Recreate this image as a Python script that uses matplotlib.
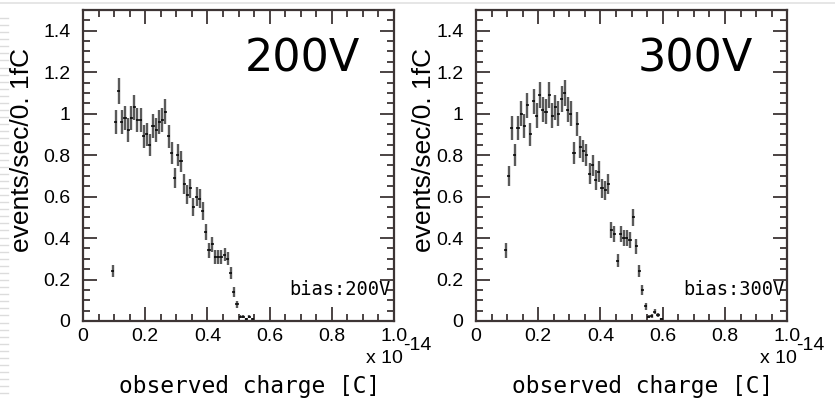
#!/usr/bin/env python
# coding: utf-8

import matplotlib
matplotlib.use('Agg')
from matplotlib import pyplot as plt
from matplotlib.ticker import MultipleLocator, FixedLocator, FixedFormatter
from matplotlib.lines import Line2D

# observed charge bin centres (x 1e-14 C), rates (events/sec/0.1fC), errors
charge_200 = [0.095, 0.105, 0.115, 0.125, 0.135, 0.145, 0.155, 0.165, 0.175, 0.185,
              0.195, 0.205, 0.215, 0.225, 0.235, 0.245, 0.255, 0.265, 0.275, 0.285,
              0.295, 0.305, 0.315, 0.325, 0.335, 0.345, 0.355, 0.365, 0.375, 0.385,
              0.395, 0.405, 0.415, 0.425, 0.435, 0.445, 0.455, 0.465, 0.475, 0.485,
              0.495, 0.505, 0.515, 0.525, 0.535, 0.545]
rate_200 = [0.24, 0.96, 1.11, 0.96, 0.98, 0.92, 0.98, 1.03, 0.97, 0.97,
            0.89, 0.90, 0.85, 0.94, 0.92, 0.96, 0.97, 1.01, 0.89, 0.81,
            0.69, 0.80, 0.77, 0.66, 0.61, 0.64, 0.55, 0.60, 0.59, 0.53,
            0.43, 0.34, 0.37, 0.31, 0.31, 0.31, 0.32, 0.30, 0.23, 0.14,
            0.08, 0.02, 0.02, 0.01, 0.02, 0.01]
err_200 = [0.029, 0.058, 0.062, 0.058, 0.058, 0.057, 0.058, 0.060, 0.058, 0.058,
           0.056, 0.056, 0.054, 0.057, 0.057, 0.058, 0.058, 0.059, 0.056, 0.053,
           0.049, 0.053, 0.052, 0.048, 0.046, 0.047, 0.044, 0.046, 0.045, 0.043,
           0.039, 0.034, 0.036, 0.033, 0.033, 0.033, 0.033, 0.032, 0.028, 0.022,
           0.017, 0.008, 0.008, 0.006, 0.008, 0.006]

charge_300 = [0.095, 0.105, 0.115, 0.125, 0.135, 0.145, 0.155, 0.165, 0.175, 0.185,
              0.195, 0.205, 0.215, 0.225, 0.235, 0.245, 0.255, 0.265, 0.275, 0.285,
              0.295, 0.305, 0.315, 0.325, 0.335, 0.345, 0.355, 0.365, 0.375, 0.385,
              0.395, 0.405, 0.415, 0.425, 0.435, 0.445, 0.455, 0.465, 0.475, 0.485,
              0.495, 0.505, 0.515, 0.525, 0.535, 0.545, 0.555, 0.565, 0.575, 0.585,
              0.595]
rate_300 = [0.34, 0.70, 0.93, 0.80, 0.93, 1.00, 0.94, 1.04, 0.90, 1.06,
            0.99, 1.09, 1.02, 1.01, 1.09, 0.99, 1.03, 1.00, 1.07, 1.10,
            1.02, 1.00, 0.81, 0.95, 0.84, 0.82, 0.80, 0.71, 0.75, 0.68,
            0.72, 0.64, 0.63, 0.66, 0.44, 0.42, 0.29, 0.42, 0.40, 0.40,
            0.39, 0.50, 0.36, 0.24, 0.15, 0.07, 0.02, 0.025, 0.045, 0.03,
            0.01]
err_300 = [0.034, 0.049, 0.057, 0.053, 0.057, 0.059, 0.057, 0.060, 0.056, 0.061,
           0.059, 0.062, 0.060, 0.059, 0.062, 0.059, 0.060, 0.059, 0.061, 0.062,
           0.060, 0.059, 0.053, 0.058, 0.054, 0.053, 0.053, 0.050, 0.051, 0.049,
           0.050, 0.047, 0.047, 0.048, 0.039, 0.038, 0.032, 0.038, 0.037, 0.037,
           0.037, 0.042, 0.035, 0.029, 0.023, 0.016, 0.008, 0.009, 0.013, 0.010,
           0.006]
bin_half = 0.005

xticks = [0, 0.2, 0.4, 0.6, 0.8, 1.0]
xticklabels = ['0', '0.2', '0.4', '0.6', '0.8', '1.0']
yticks = [0, 0.2, 0.4, 0.6, 0.8, 1.0, 1.2, 1.4]
yticklabels = ['0', '0.2', '0.4', '0.6', '0.8', '1', '1.2', '1.4']

FRAME = '#3d3535'

fig = plt.figure(figsize=(8.35, 3.98), dpi=100)

# faint slide decorations
fig.add_artist(Line2D([0, 1], [0.992, 0.992], transform=fig.transFigure, color='#e2e2e2', lw=1.2))
for k in range(54):
    yy = 0.955 - k * 0.0178
    fig.add_artist(Line2D([0, 0.009], [yy, yy], transform=fig.transFigure, color='#dcdcdc', lw=1.0))


def panel(rect, x, y, err, big, bias, ylabel_x):
    ax = fig.add_axes(rect)
    ax.errorbar(x, y, yerr=err, fmt='none', ecolor='#5a5a5a', elinewidth=1.7, capsize=0)
    ax.errorbar(x, y, xerr=bin_half, fmt='none', ecolor='black', elinewidth=1.1, capsize=0)
    ax.set_xlim(0, 1.0)
    ax.set_ylim(0, 1.5)
    ax.xaxis.set_major_locator(FixedLocator(xticks))
    ax.xaxis.set_major_formatter(FixedFormatter(xticklabels))
    ax.yaxis.set_major_locator(FixedLocator(yticks))
    ax.yaxis.set_major_formatter(FixedFormatter(yticklabels))
    ax.xaxis.set_minor_locator(MultipleLocator(0.05))
    ax.yaxis.set_minor_locator(MultipleLocator(0.05))
    ax.tick_params(which='both', direction='in', top=True, right=True, color=FRAME, width=1.3)
    ax.tick_params(which='major', length=10, labelsize=14)
    ax.tick_params(which='minor', length=5)
    ax.tick_params(axis='x', pad=5)
    ax.tick_params(axis='y', pad=9)
    for lab in ax.get_xticklabels() + ax.get_yticklabels():
        lab.set_family('Liberation Sans')
    for sp in ax.spines.values():
        sp.set_color(FRAME)
        sp.set_linewidth(1.6)

    ax.set_ylabel('events/sec/0. 1fC', family='Liberation Sans', fontsize=19)
    ax.yaxis.label.set_verticalalignment('center')
    ax.yaxis.set_label_coords(ylabel_x, 0.55)
    ax.set_xlabel('observed charge [C]', family='DejaVu Sans Mono', fontsize=16.5)
    ax.xaxis.label.set_verticalalignment('center')
    ax.xaxis.set_label_coords(0.535, -0.212)

    ax.text(0.704, 0.842, big, transform=ax.transAxes, ha='center', va='center',
            family='DejaVu Sans', fontsize=32)
    ax.text(0.99, 0.10, bias, transform=ax.transAxes, ha='right', va='center',
            family='DejaVu Sans Mono', fontsize=13.5)
    ax.text(1.03, -0.122, 'x 10', transform=ax.transAxes, ha='right', va='center',
            family='Liberation Sans', fontsize=14)
    ax.text(1.03, -0.08, '-14', transform=ax.transAxes, ha='left', va='center',
            family='Liberation Sans', fontsize=14, clip_on=False)
    return ax


panel([0.0994, 0.1935, 0.3725, 0.7814], charge_200, rate_200, err_200, '200V', 'bias:200V', -0.195)
panel([0.570, 0.1935, 0.3728, 0.7814], charge_300, rate_300, err_300, '300V', 'bias:300V', -0.168)

fig.savefig('out.png', dpi=100)
